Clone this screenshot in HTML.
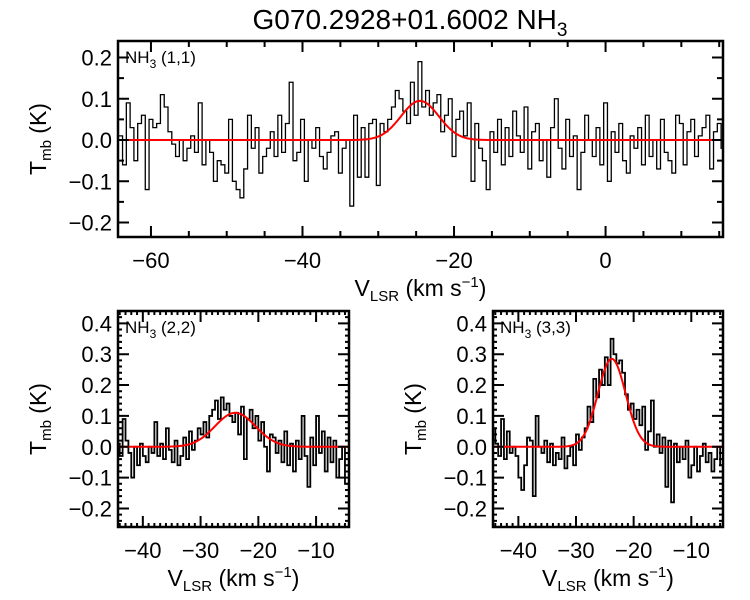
<!DOCTYPE html>
<html><head><meta charset="utf-8"><style>
html,body{margin:0;padding:0;background:#fff;}
svg{display:block;font-family:"Liberation Sans",sans-serif;}
</style></head><body>
<svg id="c" width="750" height="600" viewBox="0 0 750 600">
<text x="410" y="29" text-anchor="middle" font-size="28">G070.2928+01.6002 NH<tspan font-size="19" dy="7">3</tspan></text>
</svg>
<script>
const vStart11 = -64.0, vStep11 = 0.5;
const tmb11 = [0.01,-0.06,0.09,0.03,-0.05,
0.04,0.06,-0.12,0.05,0.03,0.04,0.11,0.08,0.02,-0.01,
-0.04,0.0,-0.05,-0.02,0.01,-0.03,0.09,-0.06,0.0,-0.03,
-0.1,-0.05,-0.06,-0.08,0.05,-0.1,-0.12,-0.14,-0.07,0.06,
-0.02,0.03,-0.08,-0.04,-0.02,0.02,-0.04,0.06,-0.03,0.04,
0.14,-0.05,-0.03,0.05,-0.1,0.0,-0.02,0.03,-0.04,-0.07,
-0.03,0.01,0.02,-0.08,-0.02,0.0,-0.16,0.06,-0.09,0.03,
-0.09,0.04,0.05,-0.11,0.04,0.02,0.05,0.08,0.12,0.1,
0.07,0.04,0.14,0.06,0.19,0.08,0.12,0.06,0.09,0.11,
0.02,0.06,0.1,-0.04,0.05,0.07,0.01,0.09,-0.1,0.04,
-0.02,-0.05,-0.12,0.02,-0.03,0.05,-0.06,0.03,-0.04,0.07,
0.01,-0.03,0.08,-0.07,0.02,0.04,-0.05,0.0,-0.09,0.03,
0.1,-0.02,-0.07,0.05,-0.04,0.01,-0.12,-0.03,0.06,0.0,
-0.04,0.03,-0.06,0.09,-0.1,0.02,-0.03,0.04,-0.05,-0.08,
0.01,-0.02,0.03,-0.06,0.06,-0.04,0.0,-0.07,0.05,-0.03,
-0.05,-0.08,0.06,0.04,-0.06,0.02,0.05,-0.04,0.01,0.03,
0.06,-0.07,0.02,0.04,-0.02];
const fit11 = [0.095, -24.5, 2.5];
const vStart22 = -44.25, vStep22 = 0.5;
const tmb22 = [0.01,-0.03,0.09,0.02,-0.02,-0.1,0.0,-0.06,0.01,-0.03,
-0.05,0.0,-0.02,0.08,-0.03,0.01,-0.04,0.06,-0.01,-0.05,
0.02,-0.06,-0.03,0.03,-0.04,0.05,-0.01,0.02,0.06,0.04,
0.08,0.03,0.1,0.12,0.15,0.09,0.16,0.12,0.14,0.1,
0.08,0.11,0.04,0.13,-0.04,0.09,0.12,0.06,0.1,0.02,
0.08,0.0,-0.08,0.04,0.03,-0.02,0.02,-0.05,0.05,-0.06,
0.01,-0.08,0.02,-0.04,0.1,-0.03,-0.13,0.03,-0.06,0.1,
-0.02,0.05,-0.08,0.03,-0.05,0.02,-0.1,-0.04,0.0,-0.12];
const fit22 = [0.11, -24.0, 3.5];
const vStart33 = -44.25, vStep33 = 0.5;
const tmb33 = [0.06,0.01,-0.03,0.09,-0.04,0.05,-0.02,0.0,-0.03,-0.1,
-0.14,-0.06,0.03,0.02,-0.16,0.1,0.0,-0.02,0.02,-0.05,
0.01,-0.06,-0.02,-0.04,0.03,-0.07,-0.03,0.0,-0.06,0.04,
-0.01,0.03,0.06,0.13,0.08,0.22,0.16,0.25,0.2,0.29,
0.2,0.35,0.3,0.27,0.28,0.24,0.17,0.12,0.14,0.09,
0.12,0.07,0.13,-0.01,0.05,0.15,0.0,0.04,-0.02,0.03,
-0.13,0.02,-0.18,0.01,-0.05,0.0,-0.04,0.02,-0.1,-0.06,
0.0,-0.08,-0.03,0.01,-0.05,-0.02,-0.08,-0.04,0.0,-0.06];
const fit33 = [0.285, -23.8, 2.4];
const yTicks11 = [-0.2,-0.1,0.0,0.1,0.2];
const xTicks11 = [-60,-40,-20,0];
const yTicksB = [-0.2,-0.1,0.0,0.1,0.2,0.3,0.4];
const xTicksB = [-40,-30,-20,-10];

const NS="http://www.w3.org/2000/svg";
const svg=document.getElementById('c');
function mk(tag,attrs,parent){const e=document.createElementNS(NS,tag);for(const k in attrs)e.setAttribute(k,attrs[k]);(parent||svg).appendChild(e);return e;}

function panel(o){
  const g=mk('g',{});
  
  
  const sx=v=>o.x0+(v-o.vmin)/(o.vmax-o.vmin)*(o.x1-o.x0);
  const sy=t=>o.y1-(t-o.tmin)/(o.tmax-o.tmin)*(o.y1-o.y0);
  const clip='clip-'+o.name;
  const cp=mk('clipPath',{id:clip},g);mk('rect',{x:o.x0,y:o.y0,width:o.x1-o.x0,height:o.y1-o.y0},cp);
  let d='';
  o.data.forEach((t,i)=>{const a=sx(o.vs+i*o.step-o.step/2),b=sx(o.vs+i*o.step+o.step/2),y=sy(t);
    d+=(i===0?'M'+a+','+y:'L'+a+','+y)+'L'+b+','+y;});
  const sp=mk('path',{d:d,fill:'none',stroke:'#000','stroke-width':o.lw,'clip-path':'url(#'+clip+')'},g);
  
  
  let f='';const n=300;
  for(let k=0;k<=n;k++){const v=o.vmin+(o.vmax-o.vmin)*k/n;const t=o.fit[0]*Math.exp(-0.5*Math.pow((v-o.fit[1])/o.fit[2],2));f+=(k?'L':'M')+sx(v).toFixed(2)+','+sy(t).toFixed(2);}
  const fp=mk('path',{d:f,fill:'none',stroke:'#f00','stroke-width':2},g);
  
  
  let td='';
  o.yt.forEach(t=>{const y=sy(t);td+=`M${o.x0},${y}h${o.mj}M${o.x1},${y}h${-o.mj}`;
    const lb=mk('text',{x:o.x0-6,y:y+8,'text-anchor':'end','font-size':22},g);lb.textContent=t.toFixed(1).replace('-','\u2212');
    });
  for(let t=o.tmin;t<=o.tmax+1e-9;t+=o.ymn){const q=Math.round(t/o.ymn)*o.ymn;if(q<o.tmin-1e-9)continue;const y=sy(q);td+=`M${o.x0},${y}h${o.mn}M${o.x1},${y}h${-o.mn}`;}
  o.xt.forEach(v=>{const x=sx(v);td+=`M${x},${o.y1}v${-o.mj}M${x},${o.y0}v${o.mj}`;
    const lb=mk('text',{x:x,y:o.y1+31,'text-anchor':'middle','font-size':22},g);lb.textContent=(v<0?'\u2212':'')+Math.abs(v);
    });
  for(let v=Math.ceil(o.vmin/o.xmn)*o.xmn;v<=o.vmax;v+=o.xmn){const x=sx(v);td+=`M${x},${o.y1}v${-o.mn}M${x},${o.y0}v${o.mn}`;}
  mk('path',{d:td,stroke:'#000','stroke-width':2,fill:'none'},g);
  const fr=mk('rect',{x:o.x0,y:o.y0,width:o.x1-o.x0,height:o.y1-o.y0,fill:'none',stroke:'#000','stroke-width':2.5},g);
  
  const lab=mk('text',{x:o.x0+7,y:o.y0+22,'font-size':17},g);
  lab.innerHTML='NH<tspan font-size="12" dy="5">3</tspan><tspan dy="-5"> '+o.label+'</tspan>';
  
  const xl=mk('text',{x:(o.x0+o.x1)/2,y:o.y1+59,'text-anchor':'middle','font-size':23},g);
  xl.innerHTML='V<tspan font-size="15" dy="5">LSR</tspan><tspan dy="-5"> (km s</tspan><tspan font-size="15" dy="-9">\u22121</tspan><tspan dy="9">)</tspan>';
  
  const cy=(o.y0+o.y1)/2;
  const yl=mk('text',{x:0,y:0,'text-anchor':'middle','font-size':23,transform:`translate(${o.ylx},${cy}) rotate(-90)`},g);
  yl.innerHTML='T<tspan font-size="15" dy="5">mb</tspan><tspan dy="-5"> (K)</tspan>';
  
}
panel({name:'panel-nh3-11',x0:118,x1:723,y0:41,y1:237,vmin:-64.35,vmax:15.5,tmin:-0.235,tmax:0.24,
  data:tmb11,vs:vStart11,step:vStep11,fit:fit11,yt:yTicks11,xt:xTicks11,xmn:5,ymn:0.05,mj:11,mn:6,lw:1.3,label:'(1,1)',ylx:46});
panel({name:'panel-nh3-22',x0:118,x1:349,y0:311,y1:527,vmin:-44.3,vmax:-4.3,tmin:-0.26,tmax:0.44,
  data:tmb22,vs:vStart22,step:vStep22,fit:fit22,yt:yTicksB,xt:xTicksB,xmn:1,ymn:0.02,mj:11,mn:4,lw:1.8,label:'(2,2)',ylx:46});
panel({name:'panel-nh3-33',x0:493,x1:723,y0:311,y1:527,vmin:-44.4,vmax:-4.5,tmin:-0.26,tmax:0.44,
  data:tmb33,vs:vStart33,step:vStep33,fit:fit33,yt:yTicksB,xt:xTicksB,xmn:1,ymn:0.02,mj:11,mn:4,lw:1.8,label:'(3,3)',ylx:421});
</script>
</body></html>
